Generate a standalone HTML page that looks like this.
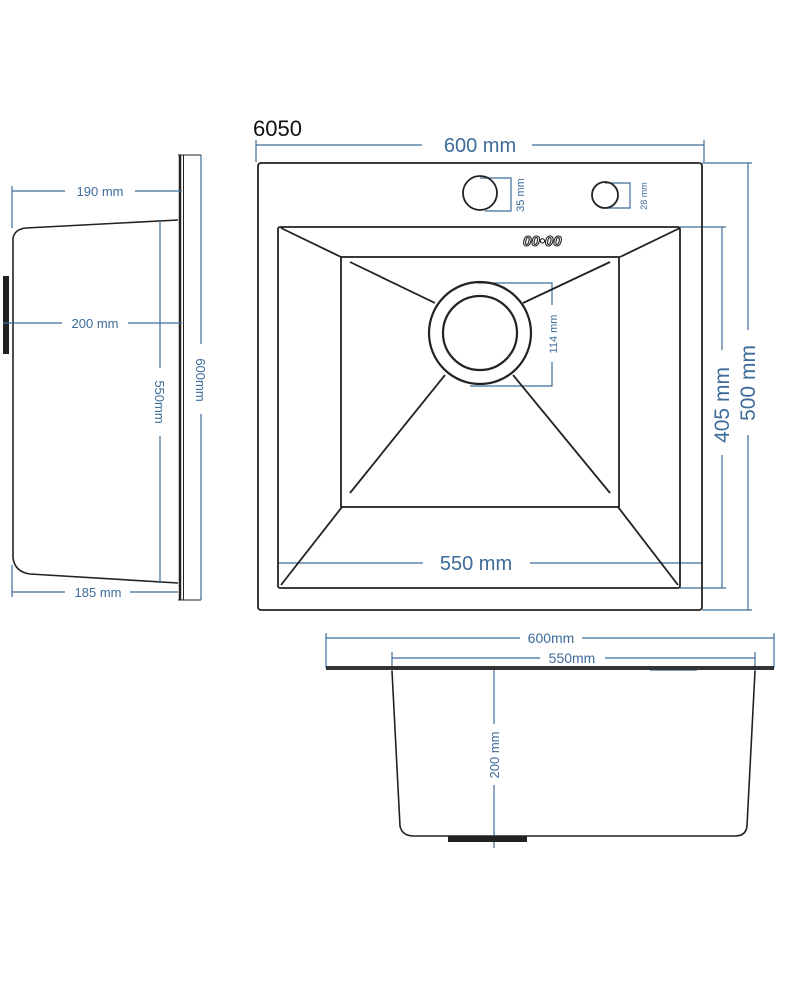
<!DOCTYPE html>
<html><head><meta charset="utf-8"><style>
html,body{margin:0;padding:0;background:#fff;}
svg{display:block;}
text{font-family:"Liberation Sans",Arial,sans-serif;fill:#3d6c9a;}
</style></head><body>
<svg width="800" height="1000" viewBox="0 0 800 1000" xmlns="http://www.w3.org/2000/svg">
<rect width="800" height="1000" fill="#fff"/>
<!-- SIDE VIEW -->
<g fill="none" stroke="#222" stroke-width="1.6">
  <path d="M178,220 L26,228 Q15,229 13,238 L13,558 Q15,572 30,574 L178,583"/>
  <line x1="180" y1="155" x2="180" y2="600" stroke-width="2.5"/>
  <line x1="183.5" y1="155" x2="183.5" y2="600" stroke-width="1"/>
  <line x1="178" y1="155" x2="201" y2="155" stroke-width="1"/>
  <line x1="178" y1="600" x2="201" y2="600" stroke-width="1"/>
</g>
<rect x="3" y="276" width="6" height="78" fill="#222"/>
<g stroke="#3d6c9a" stroke-width="1.2" fill="none">
  <line x1="12" y1="186" x2="12" y2="228"/>
  <line x1="12" y1="191" x2="65" y2="191"/><line x1="135" y1="191" x2="182" y2="191"/>
  <line x1="3" y1="323" x2="62" y2="323"/><line x1="128" y1="323" x2="182" y2="323"/>
  <line x1="12" y1="565" x2="12" y2="597"/>
  <line x1="12" y1="592" x2="65" y2="592"/><line x1="130" y1="592" x2="178" y2="592"/>
  <line x1="160" y1="220" x2="160" y2="368"/><line x1="160" y1="436" x2="160" y2="583"/>
  <line x1="201" y1="155" x2="201" y2="344"/><line x1="201" y1="414" x2="201" y2="600"/>
</g>
<text x="100" y="196" font-size="13" text-anchor="middle">190 mm</text>
<text x="95" y="328" font-size="13" text-anchor="middle">200 mm</text>
<text x="98" y="597" font-size="13" text-anchor="middle">185 mm</text>
<text transform="translate(155,402) rotate(90)" font-size="13" text-anchor="middle">550mm</text>
<text transform="translate(196,380) rotate(90)" font-size="13" text-anchor="middle">600mm</text>

<!-- TOP VIEW -->
<text x="253" y="136" font-size="22" style="fill:#111">6050</text>
<g stroke="#3d6c9a" stroke-width="1.2" fill="none">
  <line x1="256" y1="140" x2="256" y2="162"/>
  <line x1="256" y1="145" x2="422" y2="145"/><line x1="532" y1="145" x2="704" y2="145"/>
  <line x1="704" y1="140" x2="704" y2="162"/>
  <line x1="702" y1="163" x2="752" y2="163"/><line x1="702" y1="610" x2="752" y2="610"/>
  <line x1="748" y1="163" x2="748" y2="330"/><line x1="748" y1="435" x2="748" y2="610"/>
  <line x1="680" y1="227" x2="726" y2="227"/><line x1="680" y1="588" x2="726" y2="588"/>
  <line x1="722" y1="227" x2="722" y2="350"/><line x1="722" y1="455" x2="722" y2="588"/>
  <line x1="278" y1="563" x2="423" y2="563"/><line x1="530" y1="563" x2="702" y2="563"/>
  <path d="M480,178 L511,178 L511,211 L485,211"/>
  <path d="M605,183 L630,183 L630,208 L608,208"/>
  <path d="M478,283 L552,283 L552,305 M552,362 L552,386 L470,386"/>
</g>
<text x="480" y="152" font-size="20" text-anchor="middle">600 mm</text>
<text x="476" y="570" font-size="20" text-anchor="middle">550 mm</text>
<text transform="translate(729,405) rotate(-90)" font-size="21" text-anchor="middle">405 mm</text>
<text transform="translate(755,383) rotate(-90)" font-size="21" text-anchor="middle">500 mm</text>
<text transform="translate(524,195) rotate(-90)" font-size="11" text-anchor="middle">35 mm</text>
<text transform="translate(647,196) rotate(-90)" font-size="9" text-anchor="middle">28 mm</text>
<text transform="translate(557,334) rotate(-90)" font-size="11" text-anchor="middle">114 mm</text>

<g fill="none" stroke="#222" stroke-width="1.8">
  <rect x="258" y="163" width="444" height="447" rx="3"/>
  <rect x="278" y="227" width="402" height="361" rx="2"/>
  <rect x="341" y="257" width="278" height="250"/>
  <line x1="281" y1="228" x2="341" y2="257"/>
  <line x1="680" y1="228" x2="620" y2="257"/>
  <line x1="342" y1="507" x2="281" y2="585"/>
  <line x1="618" y1="507" x2="678" y2="585"/>
  <line x1="350" y1="262" x2="435" y2="303"/>
  <line x1="610" y1="262" x2="523" y2="303"/>
  <line x1="350" y1="493" x2="445" y2="375"/>
  <line x1="610" y1="493" x2="513" y2="375"/>
  <circle cx="480" cy="333" r="51" stroke-width="2.2"/>
  <circle cx="480" cy="333" r="37" stroke-width="2.2"/>
  <circle cx="480" cy="193" r="17"/>
  <circle cx="605" cy="195" r="13"/>
</g>
<text x="523" y="246" font-size="15" font-weight="bold" font-style="italic" style="fill:#fff;stroke:#222;stroke-width:1.1">00•00</text>

<!-- FRONT VIEW -->
<g stroke="#3d6c9a" stroke-width="1.2" fill="none">
  <line x1="326" y1="633" x2="326" y2="668"/><line x1="774" y1="633" x2="774" y2="668"/>
  <line x1="326" y1="638" x2="520" y2="638"/><line x1="582" y1="638" x2="774" y2="638"/>
  <line x1="392" y1="652" x2="392" y2="672"/><line x1="755" y1="652" x2="755" y2="672"/>
  <line x1="392" y1="658" x2="540" y2="658"/><line x1="605" y1="658" x2="755" y2="658"/>
  <line x1="494" y1="666" x2="494" y2="724"/><line x1="494" y1="785" x2="494" y2="848"/>
  <line x1="650" y1="670" x2="697" y2="670"/>
</g>
<text x="551" y="643" font-size="14" text-anchor="middle">600mm</text>
<text x="572" y="663" font-size="14" text-anchor="middle">550mm</text>
<text transform="translate(499,755) rotate(-90)" font-size="13" text-anchor="middle">200 mm</text>
<rect x="326" y="666" width="448" height="4" fill="#333"/>
<path d="M392,671 L400,826 Q402,836 414,836 L735,836 Q746,836 747,826 L755,671" fill="none" stroke="#222" stroke-width="1.6"/>
<rect x="448" y="836" width="79" height="6" fill="#222"/>
</svg>
</body></html>
